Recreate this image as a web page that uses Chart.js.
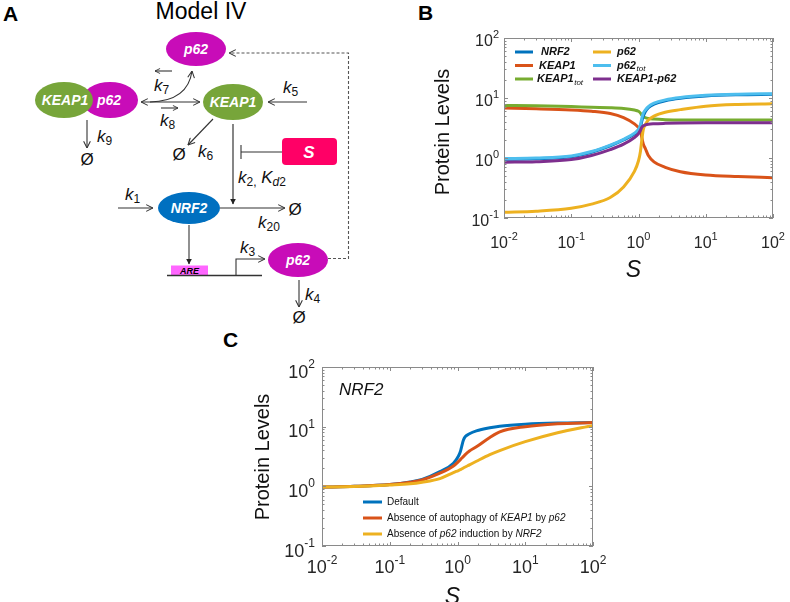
<!DOCTYPE html>
<html lang="en">
<head>
<meta charset="UTF-8" />
<title>Model IV - NRF2 / KEAP1 / p62</title>
<script src="https://cdn.jsdelivr.net/npm/chart.js"></script>
<style>
  body { margin: 0; background: #fff; }
  #page { position: relative; width: 790px; height: 602px; overflow: hidden; font-family: "Liberation Sans", Arial, sans-serif; }
  #art { position: absolute; left: 0; top: 0; }
  #chartB { position: absolute; left: 420px; top: 0; width: 370px; height: 310px; }
  #chartC { position: absolute; left: 250px; top: 320px; width: 540px; height: 282px; }
</style>
</head>
<body>
<div id="page">
  <svg id="art" width="790" height="602" viewBox="0 0 790 602" font-family="'Liberation Sans', Arial, sans-serif">
    <defs>
      <marker id="ah" viewBox="0 0 10 10" refX="9.5" refY="5" markerWidth="8" markerHeight="8" markerUnits="userSpaceOnUse" orient="auto-start-reverse">
        <path d="M1,0.8 L9.5,5 L1,9.2" fill="none" stroke="#333" stroke-width="1.3"/>
      </marker>
      <marker id="ahs" viewBox="0 0 10 10" refX="9.5" refY="5" markerWidth="6" markerHeight="6" markerUnits="userSpaceOnUse" orient="auto">
        <path d="M1,0.8 L9.5,5 L1,9.2" fill="none" stroke="#333" stroke-width="1.5"/>
      </marker>
      <marker id="af" viewBox="0 0 10 10" refX="9" refY="5" markerWidth="6" markerHeight="6" markerUnits="userSpaceOnUse" orient="auto">
        <path d="M0,0 L10,5 L0,10 z" fill="#222"/>
      </marker>
    </defs>

    <!-- panel letters and title -->
    <text x="3" y="21" font-size="21" font-weight="bold">A</text>
    <text x="418" y="20" font-size="21" font-weight="bold">B</text>
    <text x="223" y="347" font-size="21" font-weight="bold">C</text>
    <text x="201" y="19" font-size="23" text-anchor="middle">Model IV</text>

    <!-- arrows and lines -->
    <g stroke="#333" stroke-width="1.1" fill="none">
      <polyline points="328,258.5 348.5,258.5 348.5,53 229,53" stroke="#555" stroke-dasharray="3,2" marker-end="url(#ah)"/>
      <line x1="141" y1="102" x2="200" y2="102" marker-start="url(#ah)" marker-end="url(#ah)"/>
      <path d="M150,102 Q188,101 192,71" marker-end="url(#ah)"/>
      <line x1="172" y1="71" x2="155" y2="71" marker-end="url(#ahs)"/>
      <line x1="161" y1="108" x2="178" y2="108" marker-end="url(#ahs)"/>
      <line x1="307" y1="102" x2="268" y2="102" marker-end="url(#ah)"/>
      <line x1="87" y1="120" x2="87" y2="148" marker-end="url(#ah)"/>
      <line x1="213" y1="119" x2="188" y2="145" marker-end="url(#ah)"/>
      <line x1="233" y1="124" x2="233" y2="204" stroke="#444" stroke-width="1.3" marker-end="url(#af)"/>
      <line x1="282" y1="152" x2="241" y2="152"/>
      <line x1="241" y1="145" x2="241" y2="159"/>
      <line x1="118" y1="208" x2="153" y2="208" marker-end="url(#ah)"/>
      <line x1="220" y1="208" x2="285" y2="208" marker-end="url(#ah)"/>
      <line x1="189" y1="225" x2="189" y2="264" stroke="#555" stroke-width="1.3" marker-end="url(#af)"/>
      <polyline points="236,275.5 236,259 265,259" marker-end="url(#ah)"/>
      <line x1="299" y1="280" x2="299" y2="307" marker-end="url(#ah)"/>
    </g>

    <!-- species -->
    <ellipse cx="196" cy="49" rx="30" ry="17" fill="#C80CB8"/>
    <ellipse cx="110" cy="100" rx="28" ry="18" fill="#C80CB8"/>
    <ellipse cx="64" cy="100" rx="29" ry="18" fill="#77A53A"/>
    <ellipse cx="233" cy="102" rx="30" ry="18" fill="#77A53A"/>
    <ellipse cx="189" cy="208" rx="31" ry="16" fill="#0070C0"/>
    <ellipse cx="298" cy="260" rx="30" ry="17" fill="#C80CB8"/>
    <rect x="282" y="138" width="55" height="27" rx="4" fill="#FF0066"/>
    <rect x="171" y="265.5" width="37" height="10" fill="#FF66FF"/>
    <line x1="167" y1="275.5" x2="262" y2="275.5" stroke="#333" stroke-width="1.3"/>

    <g fill="#fff" font-weight="bold" font-style="italic" font-size="14" text-anchor="middle">
      <text x="196" y="54">p62</text>
      <text x="65" y="105">KEAP1</text>
      <text x="109" y="105">p62</text>
      <text x="233" y="107">KEAP1</text>
      <text x="189" y="213">NRF2</text>
      <text x="298" y="265">p62</text>
      <text x="309" y="158" font-size="17">S</text>
    </g>
    <text x="189.5" y="274" font-size="9" font-weight="bold" font-style="italic" text-anchor="middle">ARE</text>

    <!-- rate constants -->
    <g font-size="17" font-style="italic" fill="#111">
      <text x="154" y="91">k<tspan font-size="12" font-style="normal" dy="3">7</tspan></text>
      <text x="160" y="126">k<tspan font-size="12" font-style="normal" dy="3">8</tspan></text>
      <text x="283" y="93">k<tspan font-size="12" font-style="normal" dy="3">5</tspan></text>
      <text x="97" y="142">k<tspan font-size="12" font-style="normal" dy="3">9</tspan></text>
      <text x="198" y="157">k<tspan font-size="12" font-style="normal" dy="3">6</tspan></text>
      <text x="238" y="183">k<tspan font-size="12" font-style="normal" dy="3">2,</tspan><tspan dy="-3"> K</tspan><tspan font-size="12" dy="3">d</tspan><tspan font-size="12" font-style="normal">2</tspan></text>
      <text x="125" y="200">k<tspan font-size="12" font-style="normal" dy="3">1</tspan></text>
      <text x="258" y="228">k<tspan font-size="12" font-style="normal" dy="3">20</tspan></text>
      <text x="240" y="253">k<tspan font-size="12" font-style="normal" dy="3">3</tspan></text>
      <text x="305" y="300">k<tspan font-size="12" font-style="normal" dy="3">4</tspan></text>
    </g>
    <g font-size="17" fill="#111" text-anchor="middle">
      <text x="87" y="165">Ø</text>
      <text x="179" y="160">Ø</text>
      <text x="295" y="215">Ø</text>
      <text x="299" y="323">Ø</text>
    </g>
  </svg>

  <canvas id="chartB" width="370" height="310"></canvas>
  <canvas id="chartC" width="540" height="282"></canvas>
</div>

<script>
// ---- data ----
// panel B: steady states vs stressor S
const sB = [0.01, 0.03, 0.1, 0.2, 0.38, 0.6, 0.87, 1.0, 1.07, 1.12, 1.18, 1.26, 1.4, 1.7, 2.5, 4.2, 10, 30, 100];
const nrf2B     = [0.95, 0.97, 1.05, 1.25, 1.6, 2.0, 2.5, 2.85, 3.3, 4.1, 5.0, 5.9, 6.9, 7.9, 9.0, 9.9, 10.8, 11.3, 11.5];
const keap1B    = [6.8, 6.6, 6.3, 6.0, 5.5, 4.7, 3.7, 3.2, 2.8, 2.2, 1.7, 1.45, 1.1, 0.86, 0.7, 0.59, 0.52, 0.49, 0.47];
const keap1TotB = [7.5, 7.4, 7.2, 7.0, 6.9, 6.7, 6.3, 6.0, 5.6, 5.2, 4.9, 4.7, 4.55, 4.45, 4.35, 4.3, 4.3, 4.3, 4.3];
const p62B      = [0.125, 0.13, 0.145, 0.17, 0.22, 0.33, 0.6, 0.9, 1.3, 2.0, 3.0, 3.6, 4.3, 5.0, 5.8, 6.4, 7.3, 7.8, 8.0];
const p62TotB   = [0.98, 1.0, 1.08, 1.28, 1.64, 2.05, 2.6, 3.0, 3.6, 4.6, 5.6, 6.3, 7.2, 8.2, 9.3, 10.2, 11.1, 11.6, 11.8];
const keap1p62B = [0.85, 0.87, 0.94, 1.1, 1.38, 1.7, 2.2, 2.55, 2.9, 3.25, 3.45, 3.55, 3.65, 3.72, 3.78, 3.82, 3.85, 3.85, 3.85];

// panel C: NRF2 under three model variants
const sC = [0.01, 0.03, 0.1, 0.2, 0.3, 0.55, 0.87, 1.03, 1.1, 1.15, 1.22, 1.3, 1.5, 1.9, 3, 4.2, 10, 30, 100];
const nrf2Default      = [0.97, 1.0, 1.07, 1.18, 1.3, 1.76, 2.44, 3.2, 3.8, 4.6, 5.9, 6.8, 7.6, 8.5, 9.6, 10.2, 11.0, 11.5, 11.7];
const nrf2NoAutophagy  = [0.97, 1.0, 1.07, 1.17, 1.28, 1.66, 2.19, 2.6, 2.8, 2.95, 3.15, 3.4, 3.9, 4.6, 6.6, 8.2, 10.0, 11.2, 11.7];
const nrf2NoInduction  = [0.97, 0.99, 1.05, 1.1, 1.17, 1.35, 1.7, 1.84, 1.9, 1.95, 2.03, 2.11, 2.29, 2.63, 3.4, 3.98, 5.6, 7.9, 10.5];

const xTickExps = [-2, -1, 0, 1, 2];
const yTickExps = [-1, 0, 1, 2];

const FONT = '"Liberation Sans", Arial, sans-serif';
const colors = { blue: '#0072BD', red: '#D95319', green: '#77AC30', yellow: '#EDB120', cyan: '#4DBEEE', purple: '#7E2F8E' };

// 10^n label with raised exponent
function powLabel(ctx, x, y, exp, big, small, align) {
  ctx.font = big + 'px ' + FONT;
  const w1 = ctx.measureText('10').width;
  ctx.font = small + 'px ' + FONT;
  const w2 = ctx.measureText(exp).width;
  const x0 = align === 'center' ? x - (w1 + w2) / 2 : x - (w1 + w2);
  ctx.textAlign = 'left';
  ctx.textBaseline = 'alphabetic';
  ctx.font = big + 'px ' + FONT;
  ctx.fillText('10', x0, y);
  ctx.font = small + 'px ' + FONT;
  ctx.fillText(exp, x0 + w1, y - big * 0.52);
}

function logTicks(lo, hi) {
  const t = [];
  for (let e = lo; e < hi; e++)
    for (let m = 1; m < 10; m++) t.push({ v: m * Math.pow(10, e), major: m === 1 });
  t.push({ v: Math.pow(10, hi), major: true });
  return t;
}

// matlab-like box, inward ticks, labels, titles
function axesFrame(cfg) {
  return {
    id: 'frame',
    afterDatasetsDraw(chart) {
      const { ctx, chartArea: a, scales: { x, y } } = chart;
      ctx.save();
      ctx.strokeStyle = '#8a8a8a';
      ctx.lineWidth = 1;
      ctx.strokeRect(a.left + 0.5, a.top + 0.5, a.right - a.left - 1, a.bottom - a.top - 1);
      ctx.beginPath();
      logTicks(-2, 2).forEach(t => {
        const px = Math.round(x.getPixelForValue(t.v)) + 0.5;
        const len = t.major ? 4 : 2.5;
        ctx.moveTo(px, a.bottom); ctx.lineTo(px, a.bottom - len);
        ctx.moveTo(px, a.top); ctx.lineTo(px, a.top + len);
      });
      logTicks(-1, 2).forEach(t => {
        const py = Math.round(y.getPixelForValue(t.v)) + 0.5;
        const len = t.major ? 4 : 2.5;
        ctx.moveTo(a.left, py); ctx.lineTo(a.left + len, py);
        ctx.moveTo(a.right, py); ctx.lineTo(a.right - len, py);
      });
      ctx.stroke();

      ctx.fillStyle = '#262626';
      xTickExps.forEach(e => {
        powLabel(ctx, x.getPixelForValue(Math.pow(10, e)), a.bottom + cfg.xDy, String(e), cfg.big, cfg.small, 'center');
      });
      yTickExps.forEach(e => {
        powLabel(ctx, a.left - cfg.yGap, y.getPixelForValue(Math.pow(10, e)) + cfg.yDy, String(e), cfg.big, cfg.small, 'right');
      });

      // axis titles
      ctx.fillStyle = '#111';
      ctx.font = '20px ' + FONT;
      ctx.textAlign = 'center';
      ctx.textBaseline = 'middle';
      ctx.save();
      ctx.translate(cfg.yTitle[0], cfg.yTitle[1]);
      ctx.rotate(-Math.PI / 2);
      ctx.fillText('Protein Levels', 0, 0);
      ctx.restore();
      ctx.font = 'italic 23px ' + FONT;
      ctx.textBaseline = 'alphabetic';
      ctx.fillText('S', (a.left + a.right) / 2 - 5, cfg.sY);

      if (cfg.extra) cfg.extra(ctx, a);
      ctx.restore();
    }
  };
}

// ---- legends ----
const legendB = [
  { label: 'NRF2', sub: '', color: colors.blue, lx: 515, tx: 541, y: 52 },
  { label: 'KEAP1', sub: '', color: colors.red, lx: 515, tx: 539, y: 65.5 },
  { label: 'KEAP1', sub: 'tot', color: colors.green, lx: 515, tx: 537, y: 79 },
  { label: 'p62', sub: '', color: colors.yellow, lx: 593, tx: 617, y: 52 },
  { label: 'p62', sub: 'tot', color: colors.cyan, lx: 593, tx: 617, y: 65.5 },
  { label: 'KEAP1-p62', sub: '', color: colors.purple, lx: 593, tx: 617, y: 79 }
];

function drawLegendB(ctx) {
  const ox = 420, oy = 0;
  legendB.forEach(it => {
    ctx.strokeStyle = it.color;
    ctx.lineWidth = 3;
    ctx.beginPath();
    ctx.moveTo(it.lx - ox, it.y - oy);
    ctx.lineTo(it.lx + 18 - ox, it.y - oy);
    ctx.stroke();
    ctx.fillStyle = '#111';
    ctx.textAlign = 'left';
    ctx.textBaseline = 'middle';
    ctx.font = 'italic bold 11px ' + FONT;
    ctx.fillText(it.label, it.tx - ox, it.y - oy);
    if (it.sub) {
      const w = ctx.measureText(it.label).width;
      ctx.font = 'italic 8px ' + FONT;
      ctx.fillText(it.sub, it.tx - ox + w + 0.5, it.y - oy + 3.5);
    }
  });
}

const legendC = [
  { color: colors.blue, y: 502, parts: [['Default', false]] },
  { color: colors.red, y: 518, parts: [['Absence of autophagy of ', false], ['KEAP1', true], [' by ', false], ['p62', true]] },
  { color: colors.yellow, y: 534, parts: [['Absence of ', false], ['p62', true], [' induction by ', false], ['NRF2', true]] }
];

function drawLegendC(ctx) {
  const ox = 250, oy = 320;
  legendC.forEach(it => {
    ctx.strokeStyle = it.color;
    ctx.lineWidth = 3;
    ctx.beginPath();
    ctx.moveTo(363 - ox, it.y - oy);
    ctx.lineTo(382 - ox, it.y - oy);
    ctx.stroke();
    ctx.fillStyle = '#111';
    ctx.textAlign = 'left';
    ctx.textBaseline = 'middle';
    let x = 387 - ox;
    it.parts.forEach(([txt, it2]) => {
      ctx.font = (it2 ? 'italic ' : '') + '10px ' + FONT;
      ctx.fillText(txt, x, it.y - oy);
      x += ctx.measureText(txt).width;
    });
  });
  ctx.font = 'italic 17px ' + FONT;
  ctx.textBaseline = 'middle';
  ctx.fillText('NRF2', 339 - ox, 390 - oy);
}

function makeChart(id, xs, series, pad, frameCfg) {
  return new Chart(document.getElementById(id), {
    type: 'line',
    data: {
      datasets: series.map(s => ({
        label: s.label,
        data: xs.map((x, i) => ({ x: x, y: s.data[i] })),
        borderColor: s.color,
        borderWidth: 3,
        pointRadius: 0,
        fill: false,
        cubicInterpolationMode: 'monotone',
        borderJoinStyle: 'round',
        order: s.order
      }))
    },
    options: {
      responsive: false,
      animation: false,
      layout: { padding: pad },
      plugins: { legend: { display: false }, tooltip: { enabled: false } },
      scales: {
        x: { type: 'logarithmic', min: 0.01, max: 100, display: false },
        y: { type: 'logarithmic', min: 0.1, max: 100, display: false }
      }
    },
    plugins: [axesFrame(frameCfg)]
  });
}

makeChart('chartB', sB, [
  { label: 'NRF2', data: nrf2B, color: colors.blue, order: 3 },
  { label: 'KEAP1', data: keap1B, color: colors.red, order: 6 },
  { label: 'KEAP1tot', data: keap1TotB, color: colors.green, order: 5 },
  { label: 'p62', data: p62B, color: colors.yellow, order: 4 },
  { label: 'p62tot', data: p62TotB, color: colors.cyan, order: 2 },
  { label: 'KEAP1-p62', data: keap1p62B, color: colors.purple, order: 1 }
], { left: 84, right: 17, top: 38, bottom: 92 }, {
  big: 16, small: 11, xDy: 30, yGap: 5, yDy: 8, yTitle: [23, 132], sY: 277, extra: drawLegendB
});

makeChart('chartC', sC, [
  { label: 'Default', data: nrf2Default, color: colors.blue, order: 3 },
  { label: 'Absence of autophagy of KEAP1 by p62', data: nrf2NoAutophagy, color: colors.red, order: 2 },
  { label: 'Absence of p62 induction by NRF2', data: nrf2NoInduction, color: colors.yellow, order: 1 }
], { left: 72, right: 197, top: 47, bottom: 56 }, {
  big: 18, small: 12, xDy: 27, yGap: 7, yDy: 10.5, yTitle: [13.5, 137], sY: 284, extra: drawLegendC
});
</script>
</body>
</html>
